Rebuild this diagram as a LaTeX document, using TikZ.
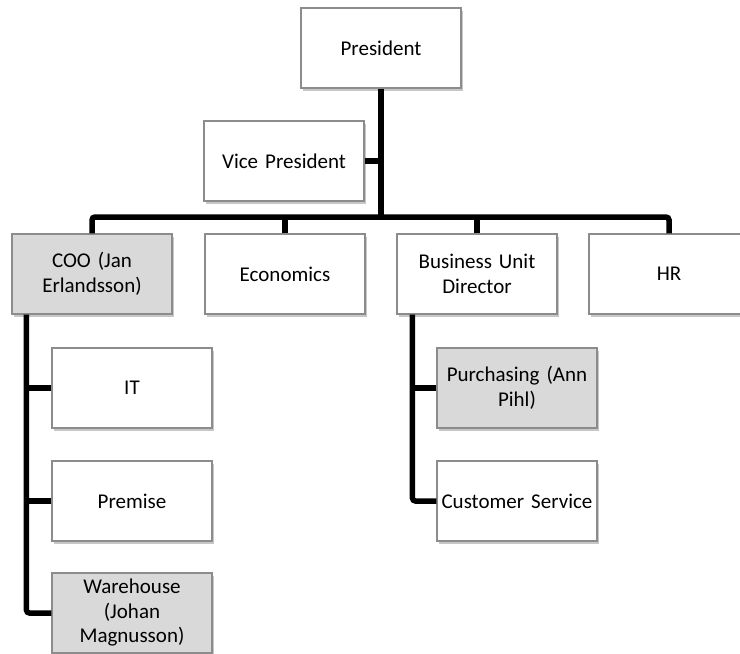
\documentclass[tikz,border=0pt]{standalone}
\usepackage{fontspec}
\setmainfont{Carlito}
\usetikzlibrary{shadows,calc}
\definecolor{boxborder}{HTML}{8C8C8C}
\definecolor{boxgray}{HTML}{D9D9D9}
\begin{document}
\begin{tikzpicture}[x=1pt,y=1pt,
  orgbox/.style={draw=boxborder, line width=1.1pt, fill=white, minimum width=160pt, minimum height=80pt,
    inner sep=0pt, text width=156pt, align=center, font=\fontsize{21}{24.5}\selectfont,
    drop shadow={shadow xshift=1.5pt, shadow yshift=-2.5pt, fill=black, opacity=0.22}},
  graybox/.style={orgbox, fill=boxgray},
  link/.style={line width=5.5pt, black, rounded corners=3pt}]
\useasboundingbox (0,0) rectangle (740,-654);
\fill[white] (0,0) rectangle (740,-654);
\node[orgbox] (pres) at (381,-48) {President};
\node[orgbox] (vp) at (284,-161) {Vice President};
\node[graybox] (coo) at (92,-274) {COO (Jan\\Erlandsson)};
\node[orgbox] (econ) at (285,-274) {Economics};
\node[orgbox] (bud) at (477,-274) {Business Unit\\Director};
\node[orgbox] (hr) at (669,-274) {HR};
\node[orgbox] (it) at (132,-388) {IT};
\node[orgbox] (prem) at (132,-501) {Premise};
\node[graybox] (wh) at (132,-613) {Warehouse\\(Johan\\Magnusson)};
\node[graybox] (purch) at (517,-388) {Purchasing (Ann\\Pihl)};
\node[orgbox] (cs) at (517,-501) {\makebox[156pt][c]{Customer Service}};
\coordinate (bar) at (381,-217);
\coordinate (cootrunk) at ($(coo.south west)+(15,0)$);
\coordinate (budtrunk) at ($(bud.south west)+(16,0)$);
\draw[link] (pres.south) -- (bar);
\draw[link] (vp.east) -- (vp.east -| bar);
\draw[link] (coo.north) -- (coo.north |- bar) -- (hr.north |- bar) -- (hr.north);
\draw[link] (econ.north) -- (econ.north |- bar);
\draw[link] (bud.north) -- (bud.north |- bar);
\draw[link] (cootrunk) |- (wh.west);
\draw[link] (it.west) -- (it.west -| cootrunk);
\draw[link] (prem.west) -- (prem.west -| cootrunk);
\draw[link] (budtrunk) |- (cs.west);
\draw[link] (purch.west) -- (purch.west -| budtrunk);
\end{tikzpicture}
\end{document}
